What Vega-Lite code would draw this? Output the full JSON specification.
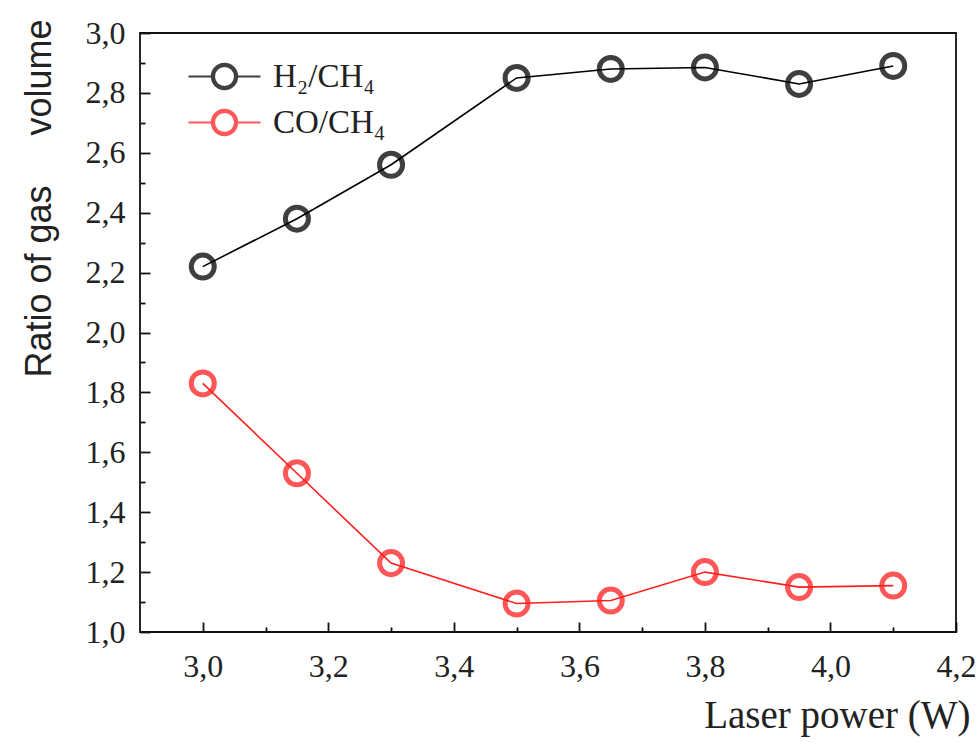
{
  "$schema": "https://vega.github.io/schema/vega-lite/v6.json",
  "width": 816,
  "height": 599,
  "autosize": {"type": "none"},
  "padding": {"left": 140, "top": 33, "right": 24, "bottom": 110},
  "background": "white",
  "config": {
    "view": {"stroke": "#111", "strokeWidth": 1.8},
    "axis": {
      "domain": false,
      "tickColor": "#111",
      "tickWidth": 1.8,
      "grid": false,
      "labelFont": "Liberation Serif",
      "labelFontSize": 32,
      "labelColor": "#222",
      "titleColor": "#222",
      "titleFontWeight": "normal"
    }
  },
  "data": {
    "values": [
      {"power": 3.0, "series": "H2/CH4", "ratio": 2.22},
      {"power": 3.15, "series": "H2/CH4", "ratio": 2.38},
      {"power": 3.3, "series": "H2/CH4", "ratio": 2.56},
      {"power": 3.5, "series": "H2/CH4", "ratio": 2.85},
      {"power": 3.65, "series": "H2/CH4", "ratio": 2.88},
      {"power": 3.8, "series": "H2/CH4", "ratio": 2.885},
      {"power": 3.95, "series": "H2/CH4", "ratio": 2.83},
      {"power": 4.1, "series": "H2/CH4", "ratio": 2.89},
      {"power": 3.0, "series": "CO/CH4", "ratio": 1.83},
      {"power": 3.15, "series": "CO/CH4", "ratio": 1.53},
      {"power": 3.3, "series": "CO/CH4", "ratio": 1.23},
      {"power": 3.5, "series": "CO/CH4", "ratio": 1.095},
      {"power": 3.65, "series": "CO/CH4", "ratio": 1.105},
      {"power": 3.8, "series": "CO/CH4", "ratio": 1.2},
      {"power": 3.95, "series": "CO/CH4", "ratio": 1.15},
      {"power": 4.1, "series": "CO/CH4", "ratio": 1.155}
    ]
  },
  "resolve": {"axis": {"x": "independent", "y": "independent"}},
  "layer": [
    {
      "mark": {"type": "line", "strokeWidth": 1.6},
      "encoding": {
        "x": {
          "field": "power",
          "type": "quantitative",
          "scale": {"domain": [2.9, 4.2], "nice": false, "zero": false},
          "axis": {
            "orient": "bottom",
            "offset": -10,
            "title": "Laser power (W)",
            "titleFont": "Liberation Serif",
            "titleFontSize": 39,
            "titleAnchor": "end",
            "titleAlign": "right",
            "titleBaseline": "alphabetic",
            "titleX": 830,
            "titleY": 105,
            "values": [3.0, 3.2, 3.4, 3.6, 3.8, 4.0, 4.2],
            "labelExpr": "replace(format(datum.value, '.1f'), '.', ',')",
            "tickSize": 10,
            "labelPadding": 19,
            "labelFlush": false,
            "labelOverlap": false
          }
        },
        "y": {
          "field": "ratio",
          "type": "quantitative",
          "scale": {"domain": [1.0, 3.0], "nice": false, "zero": false},
          "axis": {
            "orient": "left",
            "offset": -10,
            "title": "Ratio of gas\u00a0\u00a0\u00a0\u00a0\u00a0volume",
            "titleFont": "Liberation Sans",
            "titleFontSize": 36,
            "titleAngle": 270,
            "titleAlign": "center",
            "titleBaseline": "alphabetic",
            "titleX": -100,
            "titleY": 165,
            "values": [1.0, 1.2, 1.4, 1.6, 1.8, 2.0, 2.2, 2.4, 2.6, 2.8, 3.0],
            "labelExpr": "replace(format(datum.value, '.1f'), '.', ',')",
            "tickSize": 10,
            "labelPadding": 15,
            "labelFlush": false,
            "labelOverlap": false
          }
        },
        "color": {
          "field": "series",
          "type": "nominal",
          "scale": {"domain": ["H2/CH4", "CO/CH4"], "range": ["#000000", "#ff1f1f"]},
          "legend": {
            "title": null,
            "orient": "none",
            "legendX": 59,
            "legendY": 18,
            "padding": 0,
            "symbolType": "M-1.5,0L-0.525,0M0.525,0L1.5,0M0.525,0A0.525,0.525,0,1,1,-0.525,0A0.525,0.525,0,1,1,0.525,0M0.44,0A0.44,0.44,0,1,1,-0.44,0A0.44,0.44,0,1,1,0.44,0",
            "symbolSize": 2304,
            "symbolStrokeWidth": 2.2,
            "symbolFillColor": "transparent",
            "symbolOpacity": 0.8,
            "labelFont": "Liberation Serif",
            "labelFontSize": 33,
            "labelColor": "#222",
            "labelOffset": 23,
            "rowPadding": 3,
            "labelExpr": "datum.label == 'H2/CH4' ? '\u00a0\u00a0H₂/CH₄' : 'CO/CH₄'"
          }
        }
      }
    },
    {
      "mark": {"type": "point", "shape": "circle", "filled": false, "size": 530, "strokeWidth": 5, "opacity": 0.75},
      "encoding": {
        "x": {
          "field": "power",
          "type": "quantitative",
          "scale": {"domain": [2.9, 4.2], "nice": false, "zero": false},
          "axis": {
            "orient": "bottom",
            "offset": -5,
            "title": null,
            "values": [3.1, 3.3, 3.5, 3.7, 3.9, 4.1],
            "labels": false,
            "tickSize": 5
          }
        },
        "y": {
          "field": "ratio",
          "type": "quantitative",
          "scale": {"domain": [1.0, 3.0], "nice": false, "zero": false},
          "axis": {
            "orient": "left",
            "offset": -5,
            "title": null,
            "values": [1.1, 1.3, 1.5, 1.7, 1.9, 2.1, 2.3, 2.5, 2.7, 2.9],
            "labels": false,
            "tickSize": 5
          }
        },
        "color": {"field": "series", "type": "nominal"}
      }
    }
  ]
}
